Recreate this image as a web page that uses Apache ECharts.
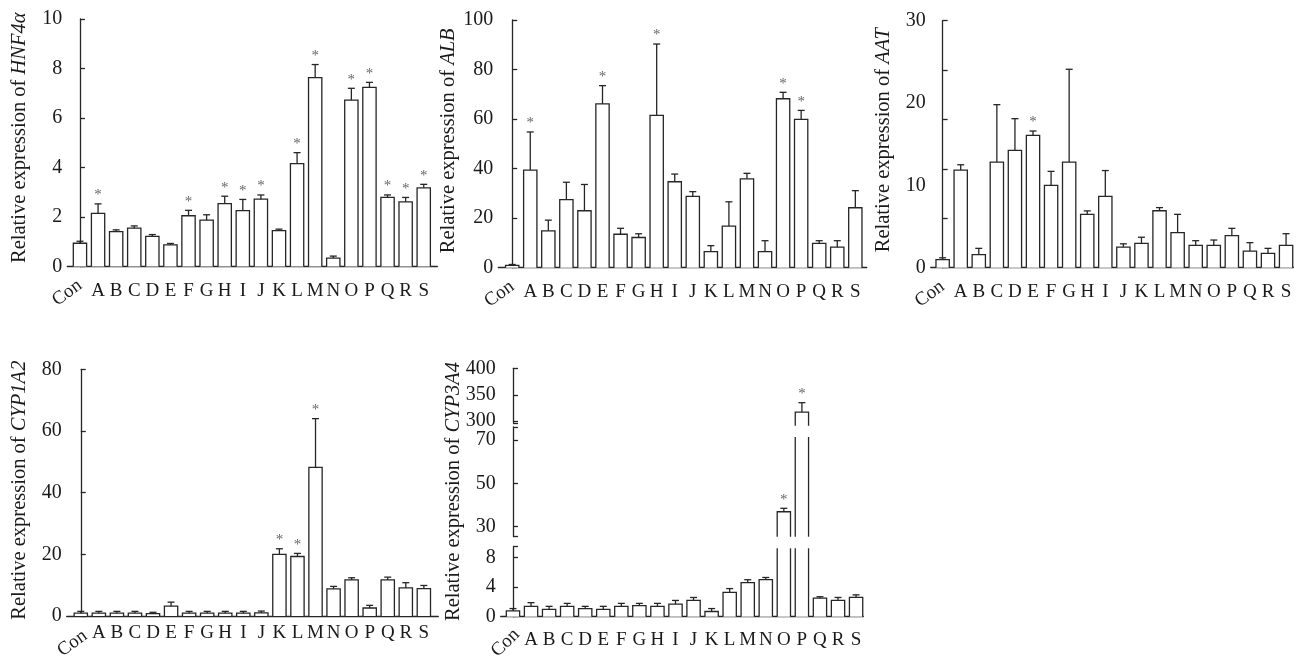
<!DOCTYPE html>
<html><head><meta charset="utf-8">
<script src="https://cdn.jsdelivr.net/npm/echarts@6/dist/echarts.min.js"></script>
<style>html,body{margin:0;padding:0;background:#fff}#c{width:1305px;height:659px}</style>
</head><body><div id="c"></div>
<script>
// ---------------- data ----------------
const categories = ['Con','A','B','C','D','E','F','G','H','I','J','K','L','M','N','O','P','Q','R','S'];

const hnf4aMean = [0.94,2.15,1.41,1.55,1.22,0.87,2.05,1.87,2.54,2.26,2.72,1.45,4.16,7.63,0.34,6.72,7.24,2.79,2.61,3.18];
const hnf4aSD   = [0.08,0.38,0.07,0.09,0.07,0.06,0.22,0.22,0.30,0.45,0.17,0.06,0.44,0.53,0.08,0.48,0.20,0.10,0.18,0.14];
const hnf4aStar = ['A','F','H','I','J','L','M','O','P','Q','R','S'];

const albMean = [0.9,39.4,14.9,27.5,23.0,66.1,13.5,12.2,61.5,34.7,28.8,6.5,16.8,35.9,6.5,68.2,59.9,9.8,8.3,24.2];
const albSD   = [0.4,15.4,4.3,7.0,10.6,7.4,2.4,1.5,28.8,3.1,1.9,2.4,9.8,2.2,4.4,2.6,3.6,1.1,2.6,6.9];
const albStar = ['A','E','H','O','P'];

const aatMean = [0.97,11.86,1.58,12.83,14.25,16.07,10.0,12.83,6.48,8.66,2.51,2.96,6.92,4.25,2.71,2.71,3.89,2.02,1.74,2.71];
const aatSD   = [0.23,0.64,0.77,6.97,3.85,0.53,1.7,11.27,0.42,3.14,0.39,0.74,0.38,2.23,0.57,0.65,0.89,1.02,0.61,1.42];
const aatStar = ['E'];

const cyp1a2Mean = [0.9,0.9,0.9,0.9,0.8,3.2,0.9,0.9,0.9,0.9,1.0,20.0,19.3,48.2,8.8,11.7,2.6,11.7,9.1,8.9];
const cyp1a2SD   = [0.6,0.6,0.6,0.6,0.4,1.3,0.6,0.6,0.6,0.6,0.6,1.8,1.0,15.8,0.8,0.7,0.85,0.9,1.7,1.0];
const cyp1a2Star = ['K','L','M'];

const cyp3a4Mean = [0.8,1.4,1.0,1.4,1.1,1.0,1.4,1.5,1.4,1.7,2.2,0.7,3.3,4.6,5.0,36.9,317.2,2.5,2.2,2.6];
const cyp3a4SD   = [0.3,0.5,0.4,0.4,0.3,0.4,0.4,0.3,0.4,0.5,0.4,0.4,0.5,0.4,0.3,1.6,17.8,0.2,0.4,0.35];
const cyp3a4Star = ['O','P'];

// tick labels
const hnf4aTicks = [0,2,4,6,8,10];
const albTicks = [0,20,40,60,80,100];
const aatLabels = [0,10,20,30];
const aatTicks = [0,6,12,18,24,30];
const cyp1a2Ticks = [0,20,40,60,80];
const cyp3a4LowLabels = [0,4,8];
const cyp3a4MidLabels = [30,50,70];
const cyp3a4TopLabels = [300,350,400];

// ---------------- style ----------------
const LINE = '#262626';
const TXT = '#1a1a1a';
const FONT = 'Liberation Serif';
const BAR_W = 13.3, CAP_W = 7, LW = 1.3;

function rows(mean, sd, stars) {
  return categories.map((c, i) => [i, mean[i], sd[i], stars.indexOf(c) >= 0 ? 1 : 0]);
}

// padTop/padBottom: pixel offsets of the bar clipping window relative to the grid (break gaps)
function makeRender(padTop, padBottom) {
  return function (params, api) {
    const cs = params.coordSys;
    const x = api.value(0), v = api.value(1), sd = api.value(2), star = api.value(3);
    const top = api.coord([x, v]);
    const base = api.coord([x, 0]);
    const errP = api.coord([x, v + sd]);
    const yMin = cs.y, yMax = cs.y + cs.height;
    const cMin = yMin + padTop, cMax = yMax + padBottom;
    const cx = top[0];
    const x0 = cx - BAR_W / 2, x1 = cx + BAR_W / 2;
    const ch = [];
    const yb = Math.min(base[1], cMax);
    const yt = Math.max(top[1], cMin);
    const topIn = top[1] >= yMin - 0.01 && top[1] <= yMax + 0.01;
    if (yt < yb) {
      ch.push({type: 'rect', shape: {x: x0, y: yt, width: BAR_W, height: yb - yt}, style: {fill: '#fff'}});
      if (topIn) {
        ch.push({type: 'polyline', shape: {points: [[x0, yb], [x0, yt], [x1, yt], [x1, yb]]},
          style: {stroke: LINE, lineWidth: LW, fill: 'none'}});
      } else {
        ch.push({type: 'line', shape: {x1: x0, y1: yb, x2: x0, y2: yt}, style: {stroke: LINE, lineWidth: LW}});
        ch.push({type: 'line', shape: {x1: x1, y1: yb, x2: x1, y2: yt}, style: {stroke: LINE, lineWidth: LW}});
      }
    }
    if (topIn) {
      const ye = Math.max(errP[1], yMin);
      ch.push({type: 'line', shape: {x1: cx, y1: top[1], x2: cx, y2: ye}, style: {stroke: LINE, lineWidth: LW}});
      if (errP[1] >= yMin) {
        ch.push({type: 'line', shape: {x1: cx - CAP_W / 2, y1: errP[1], x2: cx + CAP_W / 2, y2: errP[1]},
          style: {stroke: LINE, lineWidth: LW}});
        if (star) {
          ch.push({type: 'text', style: {text: '*', x: cx, y: errP[1] - 1, align: 'center', verticalAlign: 'bottom',
            font: '15px "' + FONT + '"', fill: '#666'}});
        }
      }
    }
    return {type: 'group', children: ch};
  };
}

function yName(gene) {
  return '{n|Relative expression of }{i|' + gene + '}';
}
function nameStyle(shift) {
  return {
    padding: [0, 0, 0, shift],
    rich: {
      n: {fontFamily: FONT, fontSize: 20.5, color: TXT},
      i: {fontFamily: FONT, fontSize: 20.5, fontStyle: 'italic', color: TXT}
    }
  };
}
const yLabelStyle = {fontFamily: FONT, fontSize: 20, color: TXT};
const xLabelStyle = {fontFamily: FONT, fontSize: 19, color: TXT};

function yAxisDef(gi, min, max, tickVals, labelVals, name, shift, extra) {
  return Object.assign({
    type: 'value', gridIndex: gi, min: min, max: max,
    axisLine: {show: true, lineStyle: {color: LINE, width: LW}},
    axisTick: {show: true, inside: true, length: 5, customValues: tickVals, lineStyle: {color: LINE, width: LW}},
    axisLabel: Object.assign({margin: 5, customValues: labelVals}, yLabelStyle),
    splitLine: {show: false},
    name: name || '', nameLocation: 'middle', nameGap: 37, nameRotate: 90, nameTextStyle: nameStyle(shift || 0)
  }, extra || {});
}
function xAxisDef(gi, min, max, margin) {
  return {
    type: 'value', gridIndex: gi, min: min, max: max, position: 'bottom',
    axisLine: {show: true, onZero: false, lineStyle: {color: LINE, width: LW}},
    axisTick: {show: false}, splitLine: {show: false},
    axisLabel: Object.assign({margin: margin, customValues: categories.slice(1).map((c, i) => i + 1),
      formatter: v => categories[Math.round(v)]}, xLabelStyle)
  };
}
function conAxisDef(gi, min, max, margin, rot, pos) {
  return {
    type: 'value', gridIndex: gi, min: min, max: max, position: 'bottom',
    axisLine: {show: false}, axisTick: {show: false}, splitLine: {show: false},
    axisLabel: Object.assign({margin: margin, rotate: rot, customValues: [pos],
      formatter: () => categories[0]}, xLabelStyle)
  };
}
function hiddenX(gi, min, max) {
  return {type: 'value', gridIndex: gi, min: min, max: max, show: false};
}

const grids = [
  {left: 67.3, top: 19, width: 370, height: 247.5},       // 0 HNF4a
  {left: 498.3, top: 20, width: 368.4, height: 247.7},    // 1 ALB
  {left: 930.7, top: 20.7, width: 362.6, height: 247},    // 2 AAT
  {left: 66.7, top: 369.3, width: 371.6, height: 246.7},  // 3 CYP1A2
  {left: 500.7, top: 546.7, width: 362.6, height: 70},    // 4 CYP3A4 low
  {left: 500.7, top: 427, width: 362.6, height: 109.7},   // 5 CYP3A4 mid
  {left: 500.7, top: 368.3, width: 362.6, height: 54.5},  // 6 CYP3A4 top
  {left: 500.7, top: 368.3, width: 362.6, height: 248.4}  // 7 CYP3A4 title holder
].map(g => Object.assign({containLabel: false, outerBoundsMode: 'none'}, g));

const xr = [[-0.70, 19.75], [-0.77, 19.63], [-0.66, 19.4], [-0.78, 19.8], [-0.68, 19.4]];

const xAxes = [
  xAxisDef(0, xr[0][0], xr[0][1], 15), conAxisDef(0, xr[0][0], xr[0][1], 17, 36, 0),
  xAxisDef(1, xr[1][0], xr[1][1], 15), conAxisDef(1, xr[1][0], xr[1][1], 17, 36, 0),
  xAxisDef(2, xr[2][0], xr[2][1], 15), conAxisDef(2, xr[2][0], xr[2][1], 17, 36, 0),
  xAxisDef(3, xr[3][0], xr[3][1], 8), conAxisDef(3, xr[3][0], xr[3][1], 18, 36, 0.25),
  xAxisDef(4, xr[4][0], xr[4][1], 14), conAxisDef(4, xr[4][0], xr[4][1], 15, 45, 0.2),
  hiddenX(5, xr[4][0], xr[4][1]), hiddenX(6, xr[4][0], xr[4][1]), hiddenX(7, xr[4][0], xr[4][1])
];
// x axis index used by series per grid
const xIdx = [0, 2, 4, 6, 8, 10, 11];

const yAxes = [
  yAxisDef(0, 0, 10, hnf4aTicks, hnf4aTicks, yName('HNF4α'), 10),
  yAxisDef(1, 0, 100, albTicks, albTicks, yName('ALB'), 6),
  yAxisDef(2, 0, 30, aatTicks, aatLabels, yName('AAT'), 8),
  yAxisDef(3, 0, 80, cyp1a2Ticks, cyp1a2Ticks, yName('CYP1A2'), 5),
  yAxisDef(4, 0, 9.46, cyp3a4LowLabels.concat([9.46]), cyp3a4LowLabels, ''),
  yAxisDef(5, 25.4, 76, [25.4].concat(cyp3a4MidLabels, [76]), cyp3a4MidLabels, ''),
  yAxisDef(6, 297, 400, [297].concat(cyp3a4TopLabels), cyp3a4TopLabels, ''),
  yAxisDef(7, 0, 1, [], [], yName('CYP3A4'), 2, {axisLine: {show: false}, axisTick: {show: false}, axisLabel: {show: false}})
];

function ser(gi, data, padTop, padBottom) {
  return {type: 'custom', xAxisIndex: xIdx[gi], yAxisIndex: gi, renderItem: makeRender(padTop || 0, padBottom || 0),
    encode: {x: 0, y: 1}, data: data, silent: true, animation: false};
}
const d3a4 = rows(cyp3a4Mean, cyp3a4SD, cyp3a4Star);
const series = [
  ser(0, rows(hnf4aMean, hnf4aSD, hnf4aStar)),
  ser(1, rows(albMean, albSD, albStar)),
  ser(2, rows(aatMean, aatSD, aatStar)),
  ser(3, rows(cyp1a2Mean, cyp1a2SD, cyp1a2Star)),
  ser(4, d3a4, 1.6, 0), ser(5, d3a4, 10, 0), ser(6, d3a4, 0, 3)
];

const chart = echarts.init(document.getElementById('c'), null, {renderer: 'canvas'});
chart.setOption({
  animation: false,
  backgroundColor: '#fff',
  grid: grids,
  xAxis: xAxes,
  yAxis: yAxes,
  series: series
});
</script>
</body></html>
